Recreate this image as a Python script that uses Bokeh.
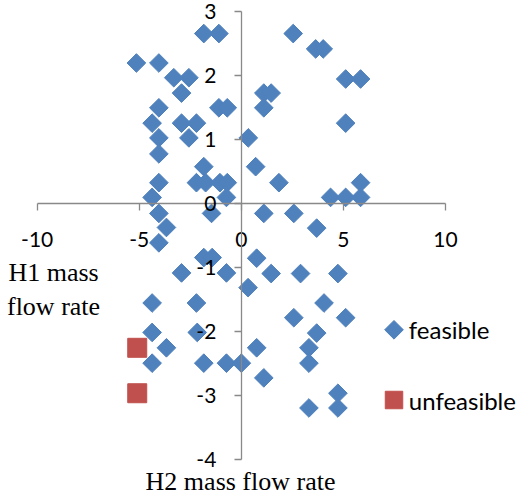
import numpy as np
from bokeh.plotting import figure
from bokeh.models import (LinearAxis, FixedTicker, Range1d, Label, ColumnDataSource)
from bokeh.embed import file_html
from bokeh.resources import INLINE

# ---- data ----
feasible_x = [-5.14, -4.04, -1.84, -1.10, -3.31, -2.57, -2.93, -4.04, -1.10, -0.69,
              -4.37, -2.93, -2.20, -4.04, -2.57, -4.04, -1.84, -4.04, -2.20, -1.75,
              -1.05, -0.69, -4.37, -0.73, 0.34, 1.10, 1.46, 1.10, 0.70, 1.84,
              2.54, 3.64, 4.01, 5.11, 5.84, 5.11, 4.37, 5.11, 5.84, 5.84,
              -4.04, -3.67, -4.04, -1.46, -1.84, -1.43, -2.93, -0.73, 0.33, -4.37,
              -2.20, -4.37, -2.16, -3.67, -4.37, -1.84, -0.73, 0.00, 1.10, 2.57,
              3.69, 0.75, 1.46, 2.90, 4.73, 4.05, 2.57, 5.11, 3.69, 0.75,
              3.31, 3.31, 1.10, 4.73, 3.31, 4.73]
feasible_y = [2.20, 2.20, 2.66, 2.66, 1.97, 1.97, 1.73, 1.50, 1.50, 1.50,
              1.26, 1.26, 1.26, 1.03, 1.03, 0.78, 0.58, 0.33, 0.33, 0.33,
              0.33, 0.33, 0.10, 0.10, 1.03, 1.73, 1.73, 1.50, 0.58, 0.33,
              2.66, 2.42, 2.42, 1.95, 1.95, 1.26, 0.10, 0.10, 0.10, 0.33,
              -0.15, -0.37, -0.61, -0.15, -0.84, -0.84, -1.08, -1.08, -1.31, -1.55,
              -1.55, -2.01, -2.01, -2.25, -2.49, -2.49, -2.49, -2.49, -0.15, -0.15,
              -0.38, -0.85, -1.09, -1.09, -1.09, -1.55, -1.78, -1.78, -2.02, -2.25,
              -2.25, -2.49, -2.72, -2.96, -3.19, -3.19]
unfeasible_x = [-5.10, -5.10]
unfeasible_y = [-2.25, -2.96]

x_ticks = [-10, -5, 0, 5, 10]
x_tick_labels = ["-10", "-5", "0", "5", "10"]
y_ticks = [-4, -3, -2, -1, 0, 1, 2, 3]
y_tick_labels = ["-4", "-3", "-2", "-1", "0", "1", "2", "3"]
series_names = ["feasible", "unfeasible"]

BLUE = "#4F81BD"
RED = "#C0504D"
AXIS = "#898989"

X0, X1 = -11.798, 13.723
Y0, Y1 = -4.4953, 3.1766
W, H = 521, 491

p = figure(width=W, height=H, output_backend="svg", toolbar_location=None,
           x_axis_type=None, y_axis_type=None, min_border=0,
           x_range=Range1d(X0, X1), y_range=Range1d(Y0, Y1))
p.outline_line_color = None
p.background_fill_color = "white"


def px_x(sx):
    return X0 + (X1 - X0) * sx / W


def px_y(sy):
    return Y1 - (Y1 - Y0) * sy / H


xaxis = LinearAxis(fixed_location=0, bounds=(-10, 10),
                   ticker=FixedTicker(ticks=x_ticks, minor_ticks=[]),
                   major_label_overrides=dict(zip(x_ticks, x_tick_labels)))
yaxis = LinearAxis(fixed_location=0, bounds=(-4, 3),
                   ticker=FixedTicker(ticks=y_ticks, minor_ticks=[]),
                   major_label_overrides=dict(zip(y_ticks, y_tick_labels)))
for ax in (xaxis, yaxis):
    ax.axis_line_color = AXIS
    ax.axis_line_width = 1.3
    ax.major_tick_line_color = AXIS
    ax.major_tick_line_width = 1.3
    ax.major_tick_in = 0
    ax.major_tick_out = 7
    ax.minor_tick_line_color = None
    ax.major_label_text_font = "Lato"
    ax.major_label_text_font_size = "21px"
    ax.major_label_text_color = "black"
xaxis.major_label_standoff = 21
yaxis.major_label_standoff = 18
p.add_layout(xaxis, "below")
p.add_layout(yaxis, "left")

src_f = ColumnDataSource(dict(x=feasible_x, y=feasible_y))
src_u = ColumnDataSource(dict(x=unfeasible_x, y=unfeasible_y))
p.scatter("x", "y", source=src_f, marker="square", size=13.2, angle=np.pi / 4,
          fill_color=BLUE, line_color=BLUE, line_width=1)
p.scatter("x", "y", source=src_u, marker="square", size=19,
          fill_color=RED, line_color=RED, line_width=1)

# ---- legend (drawn as keys + labels to keep the diamond key) ----
key_sx = 393.5
text_sx = 408.3
row_sy = [329.3, 399.5]
p.scatter(x=[px_x(key_sx)], y=[px_y(row_sy[0])], marker="square", size=13.2,
          angle=np.pi / 4, fill_color=BLUE, line_color=BLUE, line_width=1)
p.scatter(x=[px_x(key_sx)], y=[px_y(row_sy[1])], marker="square", size=17.5,
          fill_color=RED, line_color=RED, line_width=1)
for name, sy in zip(series_names, row_sy):
    p.add_layout(Label(x=px_x(text_sx), y=px_y(sy), text=name, text_align="left",
                       text_baseline="middle", text_font="Lato",
                       text_font_size="24px", text_color="black"))

p.add_layout(Label(x=-9.20, y=-1.34, text="H1 mass\nflow rate", text_align="center",
                   text_baseline="middle", text_font="Liberation Serif",
                   text_font_size="26px", text_color="black"))
p.add_layout(Label(x=-0.04, y=px_y(480.5), text="H2 mass flow rate", text_align="center",
                   text_baseline="middle", text_font="Liberation Serif",
                   text_font_size="26px", text_color="black"))

open("out.html", "w").write(file_html(p, INLINE))
